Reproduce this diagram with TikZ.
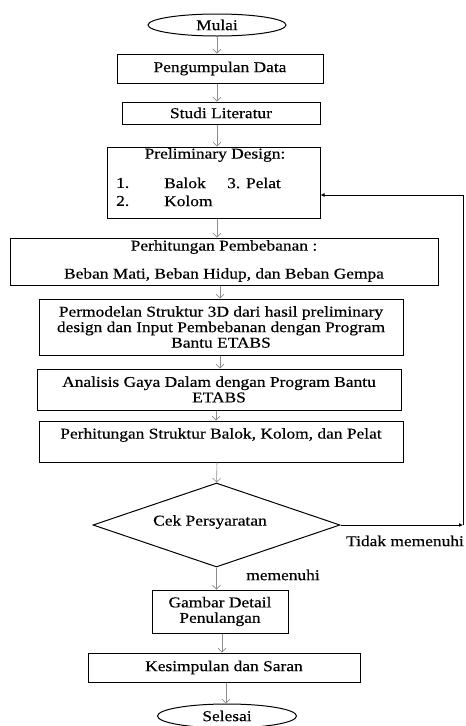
\documentclass[tikz,border=0pt]{standalone}
\usepackage{fontspec}
\setmainfont{Liberation Serif}[FakeStretch=1.16,FakeBold=0.4]
\usetikzlibrary{shapes.geometric,arrows.meta}
\begin{document}
\begin{tikzpicture}[x=1pt,y=-1pt,
  every node/.style={font=\fontsize{15}{15.5}\selectfont},
  box/.style={draw=black, line width=1pt, rectangle, inner sep=0pt, align=center},
  term/.style={draw=black, line width=1pt, ellipse, inner sep=0pt},
  txt/.style={inner sep=0pt, align=center},
  ga/.style={draw=black!45, line width=0.6pt, -{Straight Barb[length=4pt,width=8pt]}},
  fb/.style={draw=black, line width=0.8pt, -{Latex[length=4pt,width=4pt]}}]
\useasboundingbox[fill=white] (0,0) rectangle (466,726);

\node[term, minimum width=138, minimum height=22] (mulai) at (217,25) {Mulai};
\node[box, minimum width=206, minimum height=29] (peng) at (220,68.5) {Pengumpulan Data};
\node[box, minimum width=198, minimum height=22] (studi) at (221,113) {Studi Literatur};
\node[box, minimum width=213, minimum height=71] (pre) at (213.5,182.5) {};
\node[txt] (pret) at (215,155) {Preliminary Design:};
\node[txt, anchor=west] (n1) at (116,183) {1.};
\node[txt, anchor=west] (bal) at (164,183) {Balok};
\node[txt, anchor=west] (pel) at (227,183) {3. Pelat};
\node[txt, anchor=west] (n2) at (116,201) {2.};
\node[txt, anchor=west] (kol) at (164,201) {Kolom};

\node[box, minimum width=428, minimum height=47] (pp) at (224,261.5) {};
\node[txt] (ppt1) at (224,247) {Perhitungan Pembebanan :};
\node[txt] (ppt2) at (224,275) {Beban Mati, Beban Hidup, dan Beban Gempa};

\node[box, minimum width=364, minimum height=56] (pm) at (221,327) {Permodelan Struktur 3D dari hasil preliminary\\design dan Input Pembebanan dengan Program\\Bantu ETABS};
\node[box, minimum width=364, minimum height=41] (an) at (219,389.5) {Analisis Gaya Dalam dengan Program Bantu\\ETABS};
\node[box, minimum width=364, minimum height=41] (ps) at (221,441.5) {};
\node[txt] (pst) at (221,435) {Perhitungan Struktur Balok, Kolom, dan Pelat};

\node[draw=black, line width=1pt, diamond, inner sep=0pt, aspect=3, minimum width=247, minimum height=84] (cek) at (216.5,525) {};
\node[txt] (cekt) at (210,522) {Cek Persyaratan};

\node[box, minimum width=136, minimum height=43] (gam) at (220,611.5) {Gambar Detail\\Penulangan};
\node[box, minimum width=272, minimum height=29] (kes) at (224,667.5) {Kesimpulan dan Saran};
\node[term, minimum width=139, minimum height=24] (sel) at (227,716) {Selesai};

\node[txt] (tm) at (405,541) {Tidak memenuhi};
\node[txt] (mm) at (283,575) {memenuhi};

\coordinate (c1) at (463,525);
\coordinate (c2) at (463,195);

\draw[ga] (217,0 |- mulai.south) -- (217,0 |- peng.north);
\draw[ga] (217,0 |- peng.south) -- (217,0 |- studi.north);
\draw[ga] (217,0 |- studi.south) -- (217,0 |- pre.north);
\draw[ga] (217,0 |- pre.south) -- (217,0 |- pp.north);
\draw[ga] (220,0 |- pp.south) -- (220,0 |- pm.north);
\draw[ga] (220,0 |- pm.south) -- (220,0 |- an.north);
\draw[ga] (216,0 |- an.south) -- (216,0 |- ps.north);
\draw[ga] (217,0 |- ps.south) -- (cek.north);
\draw[ga] (cek.south) -- (cek.south |- gam.north);
\draw[ga] (222,0 |- gam.south) -- (222,0 |- kes.north);
\draw[ga] (226,0 |- kes.south) -- (226,0 |- sel.north);

\draw[fb] (cek.east) -- (c1);
\draw[fb] (c1) -- (c2) -- (c2 -| pre.east);
\end{tikzpicture}
\end{document}
